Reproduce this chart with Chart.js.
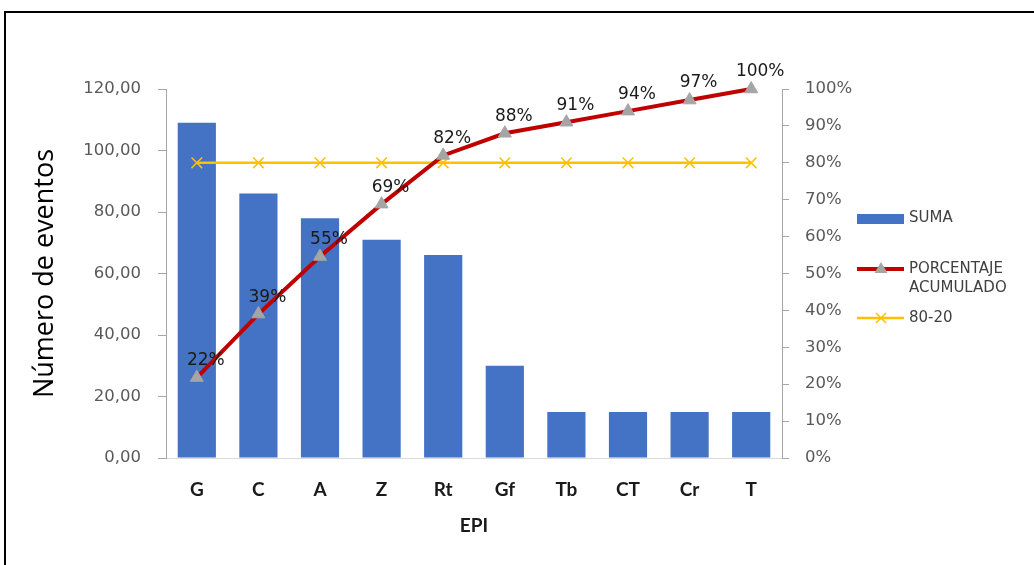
<!DOCTYPE html>
<html>
<head>
<meta charset="utf-8">
<script src="https://cdn.jsdelivr.net/npm/chart.js@4.4.0/dist/chart.umd.min.js"></script>
<style>
    html, body { margin: 0; padding: 0; background: #fff; }
    #marco { position: absolute; left: 4px; top: 11px; width: 1100px; height: 600px;
             border-left: 2px solid #000; border-top: 2px solid #000; }
    #contenedor { position: absolute; left: 0; top: 0; width: 1034px; height: 565px; }
    .leyenda { position: absolute; left: 909px; width: 122px; font-family: "DejaVu Sans";
               font-size: 15px; line-height: 19px; color: #404040; }
    .simbolo { position: absolute; left: 857px; }
</style>
</head>
<body>
<div id="marco"></div>
<div id="contenedor"><canvas id="pareto"></canvas></div>
<div id="leyendaArea"></div>
<script>
// datos
const categorias = ["G", "C", "A", "Z", "Rt", "Gf", "Tb", "CT", "Cr", "T"];
const suma = [109, 86, 78, 71, 66, 30, 15, 15, 15, 15];
const porcentajeAcumulado = [21.8, 39.0, 54.6, 68.8, 82.0, 88.0, 91.0, 94.0, 97.0, 100.0];
const linea8020 = [80, 80, 80, 80, 80, 80, 80, 80, 80, 80];
const nombresSeries = ["SUMA", "PORCENTAJE ACUMULADO", "80-20"];
const ejeIzq = { min: 0, max: 120, paso: 20 };
const ejeDer = { min: 0, max: 100, paso: 10 };

const colorBarra = "#4472c4";
const colorAcum = "#c00000";
const colorMarca = "#a5a5a5";
const color8020 = "#ffc000";
const colorEje = "#a6a6a6";

// etiquetas de porcentaje encima de los triangulos
const etiquetas = {
    id: "etiquetas",
    afterDatasetsDraw(chart) {
        const meta = chart.getDatasetMeta(1);
        const ctx = chart.ctx;
        ctx.save();
        ctx.font = '17px "DejaVu Sans"';
        ctx.fillStyle = "#1a1a1a";
        ctx.textAlign = "center";
        ctx.textBaseline = "middle";
        meta.data.forEach((pt, i) => {
            ctx.fillText(Math.round(porcentajeAcumulado[i]) + "%", pt.x + 9, pt.y - 17);
        });
        ctx.restore();
    }
};

new Chart(document.getElementById("pareto"), {
    data: {
        labels: categorias,
        datasets: [
            {
                type: "bar",
                label: nombresSeries[0],
                data: suma,
                backgroundColor: colorBarra,
                barPercentage: 0.62,
                categoryPercentage: 1.0,
                yAxisID: "y",
                order: 3
            },
            {
                type: "line",
                label: nombresSeries[1],
                data: porcentajeAcumulado,
                borderColor: colorAcum,
                borderWidth: 4,
                tension: 0,
                pointStyle: "triangle",
                pointRadius: 7.5,
                pointBackgroundColor: colorMarca,
                pointBorderColor: colorMarca,
                pointBorderWidth: 1,
                yAxisID: "y1",
                clip: false,
                order: 1
            },
            {
                type: "line",
                label: nombresSeries[2],
                data: linea8020,
                borderColor: color8020,
                borderWidth: 2.5,
                pointStyle: "crossRot",
                pointRadius: 7.5,
                pointBorderColor: color8020,
                pointBorderWidth: 1.5,
                yAxisID: "y1",
                clip: false,
                order: 2
            }
        ]
    },
    options: {
        responsive: true,
        maintainAspectRatio: false,
        animation: false,
        layout: { padding: { left: 29, right: 152, top: 89, bottom: 28 } },
        plugins: { legend: { display: false }, tooltip: { enabled: false } },
        scales: {
            x: {
                grid: { display: false, drawTicks: false },
                border: { display: true, color: "#d9d9d9", width: 1 },
                ticks: { font: { family: "Lato", size: 19, weight: "bold" }, color: "#1a1a1a", padding: 20 },
                title: { display: true, text: "EPI", font: { family: "Lato", size: 19, weight: "bold" },
                         color: "#1a1a1a", padding: 0 },
                afterFit(s) { s.height = 79; s.paddingLeft = 0; s.paddingRight = 0; }
            },
            y: {
                position: "left",
                min: ejeIzq.min, max: ejeIzq.max,
                grid: { display: true, drawOnChartArea: false, drawTicks: true, tickLength: 8, color: colorEje },
                border: { display: true, color: colorEje },
                ticks: {
                    stepSize: ejeIzq.paso, padding: 17, color: "#595959",
                    font: { family: "DejaVu Sans", size: 16.5 },
                    callback: (v) => v.toFixed(2).replace(".", ",")
                },
                title: { display: true, text: "Número de eventos", font: { family: "Open Sans", size: 27 },
                         color: "#000", padding: 0 },
                afterFit(s) { s.width = 137; s.paddingTop = 0; s.paddingBottom = 0; }
            },
            y1: {
                position: "right",
                min: ejeDer.min, max: ejeDer.max,
                grid: { display: true, drawOnChartArea: false, drawTicks: true, tickLength: 7, color: colorEje },
                border: { display: true, color: colorEje },
                ticks: {
                    stepSize: ejeDer.paso, padding: 16, color: "#595959",
                    font: { family: "DejaVu Sans", size: 16.5 },
                    callback: (v) => v + "%"
                },
                afterFit(s) { s.width = 100; s.paddingTop = 0; s.paddingBottom = 0; }
            }
        }
    },
    plugins: [etiquetas]
});

// leyenda a la derecha
const area = document.getElementById("leyendaArea");
const simbolos = [
    '<svg width="48" height="12"><rect x="0" y="1" width="47" height="10" fill="' + colorBarra + '"/></svg>',
    '<svg width="48" height="18"><line x1="0" y1="9" x2="47" y2="9" stroke="' + colorAcum + '" stroke-width="4"/>' +
        '<polygon points="24,2 30.5,13 17.5,13" fill="' + colorMarca + '"/></svg>',
    '<svg width="48" height="18"><line x1="0" y1="9" x2="47" y2="9" stroke="' + color8020 + '" stroke-width="2.5"/>' +
        '<path d="M19,4 L29,14 M29,4 L19,14" stroke="' + color8020 + '" stroke-width="1.5"/></svg>'
];
const simboloTop = [211, 260, 309];
const textoTop = [208, 259, 308];
nombresSeries.forEach((nombre, i) => {
    let s = document.createElement("div");
    s.className = "simbolo";
    s.style.top = simboloTop[i] + "px";
    s.innerHTML = simbolos[i];
    area.appendChild(s);
    let t = document.createElement("div");
    t.className = "leyenda";
    t.style.top = textoTop[i] + "px";
    t.textContent = nombre;
    area.appendChild(t);
});
</script>
</body>
</html>
